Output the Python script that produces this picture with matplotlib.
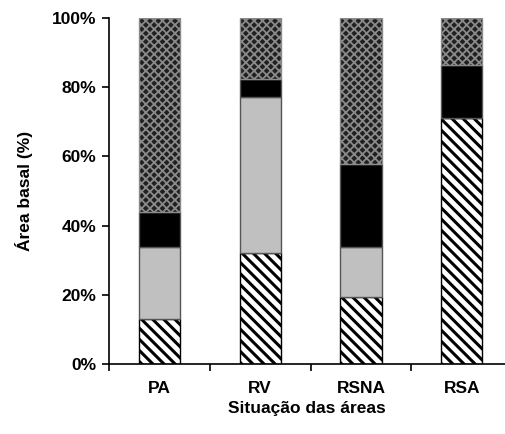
import matplotlib.pyplot as plt
import numpy as np

plt.rcParams['font.family'] = ['Liberation Sans', 'DejaVu Sans']

# data (percent of basal area, stacked bottom -> top)
categories = ['PA', 'RV', 'RSNA', 'RSA']
diag_vals = [13.0, 32.0, 19.3, 71.0]
gray_vals = [20.8, 45.2, 14.5, 0.0]
black_vals = [10.1, 5.2, 24.0, 15.3]
cross_vals = [56.1, 17.6, 42.2, 13.7]

SEGMENTS = [
    (diag_vals, dict(facecolor='white', edgecolor='black', hatch='\\\\\\'), 2.2),
    (gray_vals, dict(facecolor='#c0c0c0', edgecolor='#555555'), 1.0),
    (black_vals, dict(facecolor='black', edgecolor='#555555'), 1.0),
    (cross_vals, dict(facecolor='#202020', edgecolor='#8a8a8a', hatch='xxxx'), 1.3),
]

fig = plt.figure(figsize=(5.05, 4.34), dpi=100)
ax = fig.add_axes([0.216, 0.161, 0.784, 0.7975])

x = np.arange(len(categories))
bottom = np.zeros(len(categories))
for vals, style, hlw in SEGMENTS:
    vals = np.array(vals)
    with plt.rc_context({'hatch.linewidth': hlw}):
        ax.bar(x, vals, width=0.41, bottom=bottom, linewidth=1.0, **style)
    bottom += vals

ax.set_xlim(-0.5, 3.43)
ax.set_ylim(0, 100)
ax.set_yticks(np.arange(0, 101, 20))
ax.set_yticklabels([f"{v}%" for v in range(0, 101, 20)], fontsize=12.5, fontweight='bold')
ax.set_xticks(x)
ax.set_xticklabels(categories, fontsize=12.5, fontweight='bold')
ax.set_xticks([-0.5, 0.5, 1.5, 2.5], minor=True)
ax.tick_params(axis='x', which='major', length=0, pad=12)
ax.tick_params(axis='x', which='minor', length=5, width=1.2, direction='out')
ax.tick_params(axis='y', length=5, width=1.2, direction='out', pad=4)

ax.spines['top'].set_visible(False)
ax.spines['right'].set_visible(False)
ax.spines['left'].set_linewidth(1.2)
ax.spines['bottom'].set_linewidth(1.2)

ax.set_ylabel('Área basal (%)', fontsize=12.5, fontweight='bold', labelpad=14)
ax.set_xlabel('Situação das áreas', fontsize=12.5, fontweight='bold', labelpad=4)

plt.savefig('out.png', dpi=100)
